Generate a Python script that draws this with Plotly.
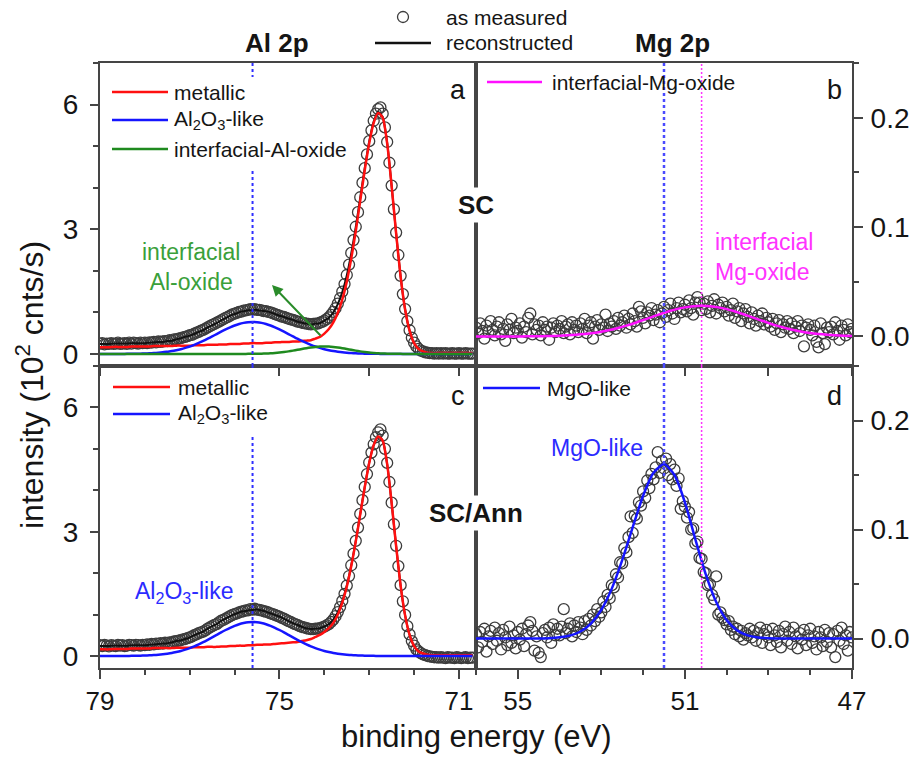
import numpy as np
import plotly.graph_objects as go

# ---------------------------------------------------------------------------
# Al 2p region (SC and SC/Ann), binding energy grid starts at 79.0 eV
# measured spectra: 0.05 eV steps, fit components: 0.1 eV steps
# ---------------------------------------------------------------------------
al_sc_measured = [
    .25, .26, .23, .25, .24, .26, .24, .25, .27, .24,   # 79.00-78.55
    .25, .26, .24, .27, .25, .27, .26, .25, .27, .26,   # 78.50-78.05
    .27, .26, .28, .27, .29, .28, .30, .29, .30, .31,   # 78.00-77.55
    .31, .33, .32, .35, .35, .37, .38, .40, .41, .43,   # 77.50-77.05
    .45, .46, .49, .51, .53, .56, .58, .61, .64, .67,   # 77.00-76.55
    .70, .72, .75, .78, .81, .84, .87, .89, .92, .95,   # 76.50-76.05
    .97, .99, 1.01, 1.02, 1.04, 1.05, 1.06, 1.08, 1.07, 1.08,
    1.06, 1.06, 1.05, 1.03, 1.03, 1.01, 1.00, .98, .96, .94,
    .92, .90, .89, .87, .85, .83, .82, .80, .78, .77,   # 75.00-74.55
    .75, .74, .73, .72, .71, .72, .73, .73, .75, .77,   # 74.50-74.05
    .80, .84, .88, .94, 1.01, 1.10, 1.21, 1.34, 1.50, 1.68,
    1.90, 2.15, 2.43, 2.74, 3.06, 3.41, 3.77, 4.12, 4.47, 4.80,
    5.12, 5.38, 5.61, 5.78, 5.89, 5.93, 5.78, 5.45, 5.10, 4.60,
    4.05, 3.48, 2.92, 2.38, 1.88, 1.44, 1.08, .79, .57, .39,
    .27, .18, .12, .08, .06, .04, .03, .02, .02, .01,   # 72.00-71.55
    .02, .01, .02, .01, .02, .01, .01, .02, .01, .01,   # 71.50-71.05
    .02, .01, .01, .02, .01, .01, .01,                  # 71.00-70.70
]
al_sc_total = [
    .24, .24, .24, .25, .25, .25, .25, .26, .26, .26,   # 79.0-78.1
    .26, .27, .28, .29, .29, .31, .32, .35, .38, .41,   # 78.0-77.1
    .44, .48, .53, .57, .64, .69, .74, .81, .86, .92,   # 77.0-76.1
    .96, 1.00, 1.03, 1.05, 1.06, 1.06, 1.04, 1.03, 1.00, .96,
    .92, .89, .85, .82, .78, .75, .73, .71, .73, .74,   # 75.0-74.1
    .80, .87, 1.00, 1.20, 1.49, 1.89, 2.42, 3.05, 3.76, 4.47,
    5.11, 5.59, 5.82, 5.70, 5.08, 4.04, 2.90, 1.86, 1.07, .56,
    .26, .12, .06, .03, .02, .02, .02, .02, .02, .02,   # 72.0-71.1
    .02, .02, .02, .02,                                 # 71.0-70.7
]
al_sc_metallic = [
    .16, .16, .16, .17, .17, .17, .17, .18, .18, .18,
    .18, .18, .19, .19, .19, .19, .19, .20, .20, .20,
    .20, .21, .21, .21, .22, .22, .22, .23, .23, .24,
    .24, .24, .25, .25, .26, .26, .26, .27, .27, .28,
    .28, .29, .29, .30, .30, .31, .32, .33, .37, .41,
    .49, .60, .76, .99, 1.31, 1.74, 2.30, 2.95, 3.69, 4.42,
    5.07, 5.56, 5.80, 5.69, 5.07, 4.04, 2.90, 1.86, 1.07, .56,
    .26, .12, .06, .03, .02, .02, .02, .02, .02, .02,
    .02, .02, .02, .02,
]
al_sc_al2o3 = [
    0, 0, 0, 0, 0, 0, .002, .003, .005, .007,
    .011, .015, .021, .029, .039, .053, .069, .090, .115, .145,
    .179, .219, .264, .313, .366, .422, .478, .535, .589, .639,
    .684, .720, .747, .765, .770, .765, .747, .720, .684, .639,
    .589, .535, .478, .422, .366, .313, .264, .219, .179, .145,
    .115, .090, .069, .053, .039, .029, .021, .015, .011, .007,
    .005, .003, .002, 0, 0, 0, 0, 0, 0, 0,
    0, 0, 0, 0, 0, 0, 0, 0, 0, 0,
    0, 0, 0, 0,
]
al_sc_interfacial = [
    0, 0, 0, 0, 0, 0, 0, 0, 0, 0,
    0, 0, 0, 0, 0, 0, 0, 0, 0, 0,
    0, 0, 0, 0, 0, 0, 0, 0, 0, 0,
    0, 0, .001, .002, .003, .004, .007, .011, .016, .024,
    .034, .047, .062, .080, .099, .119, .138, .155, .168, .177,
    .180, .177, .168, .155, .138, .119, .099, .080, .062, .047,
    .034, .024, .016, .011, .007, .004, .003, .002, .001, 0,
    0, 0, 0, 0, 0, 0, 0, 0, 0, 0,
    0, 0, 0, 0,
]

al_ann_measured = [
    .26, .24, .27, .25, .23, .26, .25, .24, .27, .25,   # 79.00-78.55
    .26, .24, .25, .27, .26, .25, .27, .26, .25, .27,
    .26, .28, .27, .29, .28, .30, .29, .31, .30, .32,
    .31, .33, .33, .35, .36, .37, .38, .40, .41, .43,
    .45, .47, .50, .52, .55, .57, .59, .62, .66, .69,
    .72, .75, .77, .81, .85, .87, .90, .93, .96, .99,
    1.01, 1.03, 1.05, 1.07, 1.08, 1.10, 1.10, 1.13, 1.12, 1.14,
    1.12, 1.11, 1.10, 1.08, 1.07, 1.05, 1.03, 1.01, .99, .97,
    .95, .92, .90, .87, .84, .82, .79, .77, .75, .72,
    .70, .69, .67, .66, .65, .65, .66, .66, .67, .69,
    .71, .74, .77, .82, .88, .96, 1.06, 1.18, 1.33, 1.50,
    1.70, 1.93, 2.19, 2.47, 2.78, 3.10, 3.43, 3.76, 4.08, 4.39,
    4.67, 4.91, 5.11, 5.28, 5.40, 5.47, 5.32, 5.00, 4.66, 4.20,
    3.70, 3.18, 2.66, 2.17, 1.71, 1.32, .99, .72, .52, .36,
    .25, .16, .11, .07, .04, .02, .00, -.01, -.02, -.03,
    -.03, -.04, -.03, -.04, -.05, -.03, -.04, -.04, -.05, -.03,
    -.04, -.05, -.04, -.03, -.05, -.04, -.04,
]
al_ann_total = [
    .24, .24, .24, .25, .25, .25, .25, .26, .26, .26,
    .26, .27, .28, .29, .30, .31, .33, .36, .38, .41,
    .45, .50, .55, .59, .66, .72, .77, .85, .90, .96,
    1.01, 1.05, 1.08, 1.10, 1.11, 1.12, 1.10, 1.07, 1.03, .99,
    .95, .90, .84, .79, .75, .70, .67, .65, .66, .67,
    .71, .77, .88, 1.06, 1.33, 1.70, 2.19, 2.78, 3.43, 4.08,
    4.67, 5.09, 5.30, 5.20, 4.63, 3.69, 2.65, 1.70, .98, .51,
    .24, .11, .06, .03, .02, .02, .02, .02, .02, .02,
    .02, .02, .02, .02,
]
al_ann_metallic = [
    .16, .16, .16, .17, .17, .17, .17, .18, .18, .18,
    .18, .18, .19, .19, .19, .19, .19, .20, .20, .20,
    .20, .21, .21, .21, .22, .22, .22, .23, .23, .24,
    .24, .25, .25, .26, .26, .27, .27, .28, .28, .29,
    .30, .31, .32, .33, .34, .36, .38, .41, .46, .51,
    .58, .67, .80, 1.00, 1.29, 1.67, 2.17, 2.76, 3.42, 4.07,
    4.66, 5.09, 5.30, 5.20, 4.63, 3.69, 2.65, 1.70, .98, .51,
    .24, .11, .06, .03, .02, .02, .02, .02, .02, .02,
    .02, .02, .02, .02,
]
al_ann_al2o3 = [
    0, 0, 0, 0, 0, .001, .002, .003, .005, .008,
    .012, .016, .022, .031, .042, .056, .073, .096, .122, .154,
    .191, .233, .281, .333, .390, .449, .509, .570, .627, .681,
    .728, .767, .796, .815, .820, .815, .796, .767, .728, .681,
    .627, .570, .509, .449, .390, .333, .281, .233, .191, .154,
    .122, .096, .073, .056, .042, .031, .022, .016, .012, .008,
    .005, .003, .002, .001, 0, 0, 0, 0, 0, 0,
    0, 0, 0, 0, 0, 0, 0, 0, 0, 0,
    0, 0, 0, 0,
]

# ---------------------------------------------------------------------------
# Mg 2p region, binding energy grid starts at 56.0 eV
# ---------------------------------------------------------------------------
mg_sc_measured = [
    .008, .003, .012, .005, -.002, .010, .004, .014, .006, .001,   # 56.00-55.55
    .009, .013, .002, .007, -.004, .011, .006, .016, .003, .008,
    .005, .012, -.001, .009, .004, .017, .021, .002, .011, .006,
    .010, .001, .013, .006, .009, -.003, .008, .012, .004, .010,
    .007, .014, .003, .009, .011, .002, .013, .006, .010, .004,
    .012, .007, .016, .003, .010, .013, -.002, .009, .015, .006,
    .011, .008, .020, .005, .012, .009, .014, .007, .017, .010,
    .013, .019, .008, .016, .011, .021, .014, .009, .027, .023,
    .017, .012, .022, .019, .026, .015, .020, .024, .013, .021,
    .027, .018, .024, .030, .021, .016, .026, .031, .022, .025,
    .029, .023, .033, .026, .020, .031, .036, .031, .024, .030,
    .025, .032, .022, .028, .034, .021, .029, .026, .031, .023,
    .027, .019, .024, .030, .017, .023, .026, .014, .021, .025,
    .018, .012, .022, .016, .010, .019, .014, .021, .011, .017,
    .013, .009, .016, .006, .012, .015, .004, .011, .008, .014,
    .007, .012, .003, .009, .014, .005, .010, -.009, .008, .011,
    .006, .001, .010, -.005, -.010, .012, .003, -.007, .008, .004,
    .009, .002, .013, .005, -.003, .010, .006, .001, .011, .004,
    .007,                                                           # 47.00
]
# interfacial Mg-oxide component, 0.2 eV steps
mg_sc_interfacial = [
    0, 0, 0, 0, 0, 0, .0001, .0002, .0003, .0004,                 # 56.0-54.2
    .0007, .0011, .0016, .0023, .0032, .0044, .0059, .0078, .0099, .0123,
    .0150, .0177, .0203, .0228, .0250, .0266, .0276, .0280, .0276, .0266,
    .0250, .0228, .0203, .0177, .0150, .0123, .0099, .0078, .0059, .0044,
    .0032, .0023, .0016, .0011, .0007, .0004,                      # 48.0-47.0
]

mg_ann_measured = [
    .004, -.008, .006, -.003, .009, -.012, .002, .007, -.005, .010,
    -.002, .005, -.010, .008, .001, -.006, .011, -.004, .003, -.009,
    .006, -.001, .009, -.007, .004, .012, .015, .007, -.011, .002,
    -.013, -.017, .005, .008, .001, .010, -.004, .013, .003, .009,
    .003, .011, .027, .005, .009, .014, .002, .012, .006, .015,
    .010, .004, .016, .008, .018, .012, .022, .016, .027, .020,
    .024, .034, .029, .040, .037, .049, .047, .059, .056, .070,
    .069, .083, .079, .093, .112, .097, .113, .110, .125, .122,
    .135, .129, .145, .138, .151, .146, .157, .171, .152, .163,
    .156, .165, .150, .160, .146, .155, .140, .147, .119, .126,
    .121, .111, .116, .100, .101, .087, .089, .074, .073, .061,
    .060, .049, .050, .040, .036, .057, .022, .024, .019, .017,
    .013, .016, .008, .011, .004, .009, .002, .007, -.001, .005,
    .003, .009, .001, .007, -.002, .005, .010, -.004, .004, .008,
    .001, -.006, .009, .003, -.003, .007, -.008, .004, .011, -.002,
    .006, -.005, .010, .002, -.009, .005, -.001, .008, -.006, .003,
    .009, -.004, .002, -.010, .006, .001, -.007, .008, -.003, .005,
    -.008, .004, -.017, .007, -.002, .010, -.005, .003, -.011, .006,
    .001,
]
# MgO-like component, 0.25 eV steps
mg_ann_mgo = [
    0, 0, 0, 0, 0, 0, .0001, .0004,                  # 56.00-54.25
    .0011, .0028, .0065, .0138, .0264, .0458, .0719, .102,
    .131, .152, .160, .150, .125, .0911, .0589, .0335,
    .0169, .0075, .0029, .0010, .0003, .0001, 0, 0,
    0, 0, 0, 0, 0,                                   # 48.00-47.00
]

# characteristic peak positions (eV)
AL2O3_POS = 75.6
MGO_POS = 51.5
MG_IFACE_POS = 50.6


def energy(start, step, values):
    return np.round(start - step * np.arange(len(values)), 3)


E_al_meas_sc = energy(79.0, 0.05, al_sc_measured)
E_al_meas_ann = energy(79.0, 0.05, al_ann_measured)
E_al_fit = energy(79.0, 0.1, al_sc_total)
E_mg_meas_sc = energy(56.0, 0.05, mg_sc_measured)
E_mg_meas_ann = energy(56.0, 0.05, mg_ann_measured)
E_mg_iface = energy(56.0, 0.2, mg_sc_interfacial)
E_mg_mgo = energy(56.0, 0.25, mg_ann_mgo)

# ---------------------------------------------------------------------------
W, H = 913, 757
FONT = "Liberation Sans, Arial, Helvetica, sans-serif"
AXC = "#454545"
TXT = "#151515"
RED, BLUE, GREEN, MAGENTA = "#ff1010", "#1515ff", "#1f8a1f", "#ff10ff"


def px(x):
    return x / W


def py(y):
    return 1 - y / H


LEFT, MID, RIGHT = 100, 476, 852
TOP, HMID, BOTTOM = 63, 366, 668

fig = go.Figure()

marker_style = dict(symbol="circle-open", size=11, color="#3c3c3c", line=dict(width=1.3))


def measured(x, y, xa, ya):
    fig.add_trace(go.Scatter(x=x, y=y, mode="markers", marker=marker_style,
                             xaxis=xa, yaxis=ya, showlegend=False, hoverinfo="skip"))


def curve(x, y, color, width, xa, ya):
    fig.add_trace(go.Scatter(x=x, y=y, mode="lines",
                             line=dict(color=color, width=width, shape="spline", smoothing=0.6),
                             xaxis=xa, yaxis=ya, showlegend=False, hoverinfo="skip"))


# (a) Al 2p, SC
measured(E_al_meas_sc, al_sc_measured, "x", "y")
curve(E_al_fit, al_sc_total, "#111111", 2, "x", "y")
curve(E_al_fit, al_sc_metallic, RED, 2.5, "x", "y")
curve(E_al_fit, al_sc_al2o3, BLUE, 2.5, "x", "y")
curve(E_al_fit, al_sc_interfacial, GREEN, 2.5, "x", "y")
# (b) Mg 2p, SC
measured(E_mg_meas_sc, mg_sc_measured, "x2", "y2")
curve(E_mg_iface, mg_sc_interfacial, MAGENTA, 2.5, "x2", "y2")
# (c) Al 2p, SC/Ann
measured(E_al_meas_ann, al_ann_measured, "x3", "y3")
curve(E_al_fit, al_ann_total, "#111111", 2, "x3", "y3")
curve(E_al_fit, al_ann_metallic, RED, 2.5, "x3", "y3")
curve(E_al_fit, al_ann_al2o3, BLUE, 2.5, "x3", "y3")
# (d) Mg 2p, SC/Ann
measured(E_mg_meas_ann, mg_ann_measured, "x4", "y4")
curve(E_mg_mgo, mg_ann_mgo, BLUE, 2.5, "x4", "y4")

base = dict(showline=True, mirror=True, linecolor=AXC, linewidth=2, showgrid=False,
            zeroline=False, ticks="outside", tickcolor=AXC, tickwidth=1.5, automargin=False,
            tickfont=dict(family=FONT, size=28, color=TXT))
xtickfont = dict(family=FONT, size=26, color=TXT)
minor = lambda d: dict(ticks="outside", ticklen=5, dtick=d, tickcolor=AXC, tickwidth=1.5)

xl = [px(LEFT), px(MID)]
xr = [px(MID), px(RIGHT)]
yt = [py(HMID), py(TOP)]
yb = [py(BOTTOM), py(HMID)]
al_range = [79.0, 70.62]
mg_range = [56.0, 47.0]
al_y = [-0.29, 7.0]
mg_y = [-0.027, 0.25]

fig.update_layout(
    xaxis=dict(base, domain=xl, range=al_range, anchor="y", tickmode="linear", tick0=71,
               dtick=2, ticklen=8, showticklabels=False),
    yaxis=dict(base, domain=yt, range=al_y, anchor="x", tickmode="linear", tick0=0, dtick=3,
               ticklen=8, minor=minor(1), ticklabelstandoff=6),
    xaxis2=dict(base, domain=xr, range=mg_range, anchor="y2", tickmode="linear", tick0=47,
                dtick=2, ticklen=8, showticklabels=False),
    yaxis2=dict(base, domain=yt, range=mg_y, anchor="x2", side="right", tickmode="linear",
                tick0=0, dtick=0.1, tickformat=".1f", ticklen=9, minor=minor(0.05),
                ticklabelstandoff=2),
    xaxis3=dict(base, domain=xl, range=al_range, anchor="y3", tickmode="linear", tick0=71,
                dtick=4, ticklen=9, minor=minor(1), ticklabelstandoff=0, tickfont=xtickfont),
    yaxis3=dict(base, domain=yb, range=al_y, anchor="x3", tickmode="linear", tick0=0, dtick=3,
                ticklen=8, minor=minor(1), ticklabelstandoff=6),
    xaxis4=dict(base, domain=xr, range=mg_range, anchor="y4", tickmode="linear", tick0=47,
                dtick=4, ticklen=9, minor=minor(1), ticklabelstandoff=0, tickfont=xtickfont),
    yaxis4=dict(base, domain=yb, range=mg_y, anchor="x4", side="right", tickmode="linear",
                tick0=0, dtick=0.1, tickformat=".1f", ticklen=9, minor=minor(0.05),
                ticklabelstandoff=2),
)

shapes = []


def vline(x, xa, ya, color, width, dash):
    shapes.append(dict(type="line", xref=xa, yref=f"{ya} domain", x0=x, x1=x, y0=0, y1=1,
                       line=dict(color=color, width=width, dash=dash), layer="above"))


vline(AL2O3_POS, "x", "y", "#2e2eff", 2, "dot")
vline(AL2O3_POS, "x3", "y3", "#2e2eff", 2, "dot")
vline(MGO_POS, "x2", "y2", "#4a4aff", 2.5, "dot")
vline(MGO_POS, "x4", "y4", "#4a4aff", 2.5, "dot")
vline(MG_IFACE_POS, "x2", "y2", "#ff33ff", 1.5, "2px,2px")
vline(MG_IFACE_POS, "x4", "y4", "#ff33ff", 1.5, "2px,2px")


def box(x0, y0, x1, y1):
    shapes.append(dict(type="rect", xref="paper", yref="paper", x0=px(x0), x1=px(x1),
                       y0=py(y1), y1=py(y0), fillcolor="white", line=dict(width=0),
                       layer="above"))


def swatch(x0, x1, y, color, width=2.5):
    shapes.append(dict(type="line", xref="paper", yref="paper", x0=px(x0), x1=px(x1),
                       y0=py(y), y1=py(y), line=dict(color=color, width=width),
                       layer="above"))


# legend backgrounds
box(103, 77, 350, 168)
box(103, 368, 272, 436)
box(478, 368, 640, 408)

# top legend: open circle + black line
shapes.append(dict(type="circle", xref="paper", yref="paper", xsizemode="pixel",
                   ysizemode="pixel", xanchor=px(403), yanchor=py(17), x0=-5.5, x1=5.5,
                   y0=-5.5, y1=5.5, line=dict(color="#3c3c3c", width=1.3), layer="above"))
swatch(375, 431, 43, "#111111", 2.5)

swatch(112, 168, 92, RED)
swatch(112, 168, 120, BLUE)
swatch(112, 168, 149, GREEN)
swatch(113, 170, 387, RED)
swatch(113, 170, 414, BLUE)
swatch(487, 542, 82, MAGENTA)
swatch(483, 540, 388, BLUE)

annotations = []


def text(x, y, s, size=21, color=TXT, xanchor="left", **kw):
    annotations.append(dict(x=px(x), y=py(y), xref="paper", yref="paper", text=s,
                            showarrow=False, xanchor=xanchor, yanchor="middle",
                            font=dict(family=FONT, size=size, color=color), **kw))


AL2O3 = "Al<sub>2</sub>O<sub>3</sub>-like"

text(444, 17, "as measured")
text(444, 43, "reconstructed")
text(277, 43, "<b>Al 2p</b>", size=26, xanchor="center")
text(672, 43, "<b>Mg 2p</b>", size=26, xanchor="center")

text(172, 92, "metallic")
text(172, 120, AL2O3)
text(172, 149, "interfacial-Al-oxide")
text(176, 387, "metallic")
text(176, 414, AL2O3)
text(550, 82, "interfacial-Mg-oxide")
text(545, 388, "MgO-like")

text(458, 90, "a", size=27, xanchor="center")
text(834, 90, "b", size=27, xanchor="center")
text(458, 396, "c", size=27, xanchor="center")
text(834, 396, "d", size=27, xanchor="center")

text(476, 205, "<b>SC</b>", size=26, xanchor="center", bgcolor="white", borderpad=2)
text(476, 513, "<b>SC/Ann</b>", size=26, xanchor="center", bgcolor="white", borderpad=2)

text(191, 267, "interfacial<br>Al-oxide", size=23, color="#3aa03a", xanchor="center")
text(713, 257, "interfacial<br>Mg-oxide", size=23, color="#ff33ff", align="left")
text(597, 448, "MgO-like", size=23, color="#2b2bff", xanchor="center")
text(184, 592, AL2O3, size=23, color="#2b2bff", xanchor="center")

# arrow toward the interfacial Al-oxide component
annotations.append(dict(x=px(272), y=py(285), xref="paper", yref="paper", text="",
                        showarrow=True, ax=50, ay=52, arrowhead=2, arrowsize=1.1,
                        arrowwidth=2, arrowcolor="#2a8c2a", standoff=0, startstandoff=0))

text(30, 385, "intensity (10<sup>2</sup> cnts/s)", size=32, xanchor="center", textangle=-90)
text(476, 736, "binding energy (eV)", size=31, xanchor="center", borderpad=0)

fig.update_layout(
    width=W, height=H, autosize=False,
    margin=dict(l=0, r=0, t=0, b=0, pad=0),
    paper_bgcolor="white", plot_bgcolor="white",
    showlegend=False,
    font=dict(family=FONT, color=TXT),
    shapes=shapes, annotations=annotations,
)

fig.write_html("out.html")
